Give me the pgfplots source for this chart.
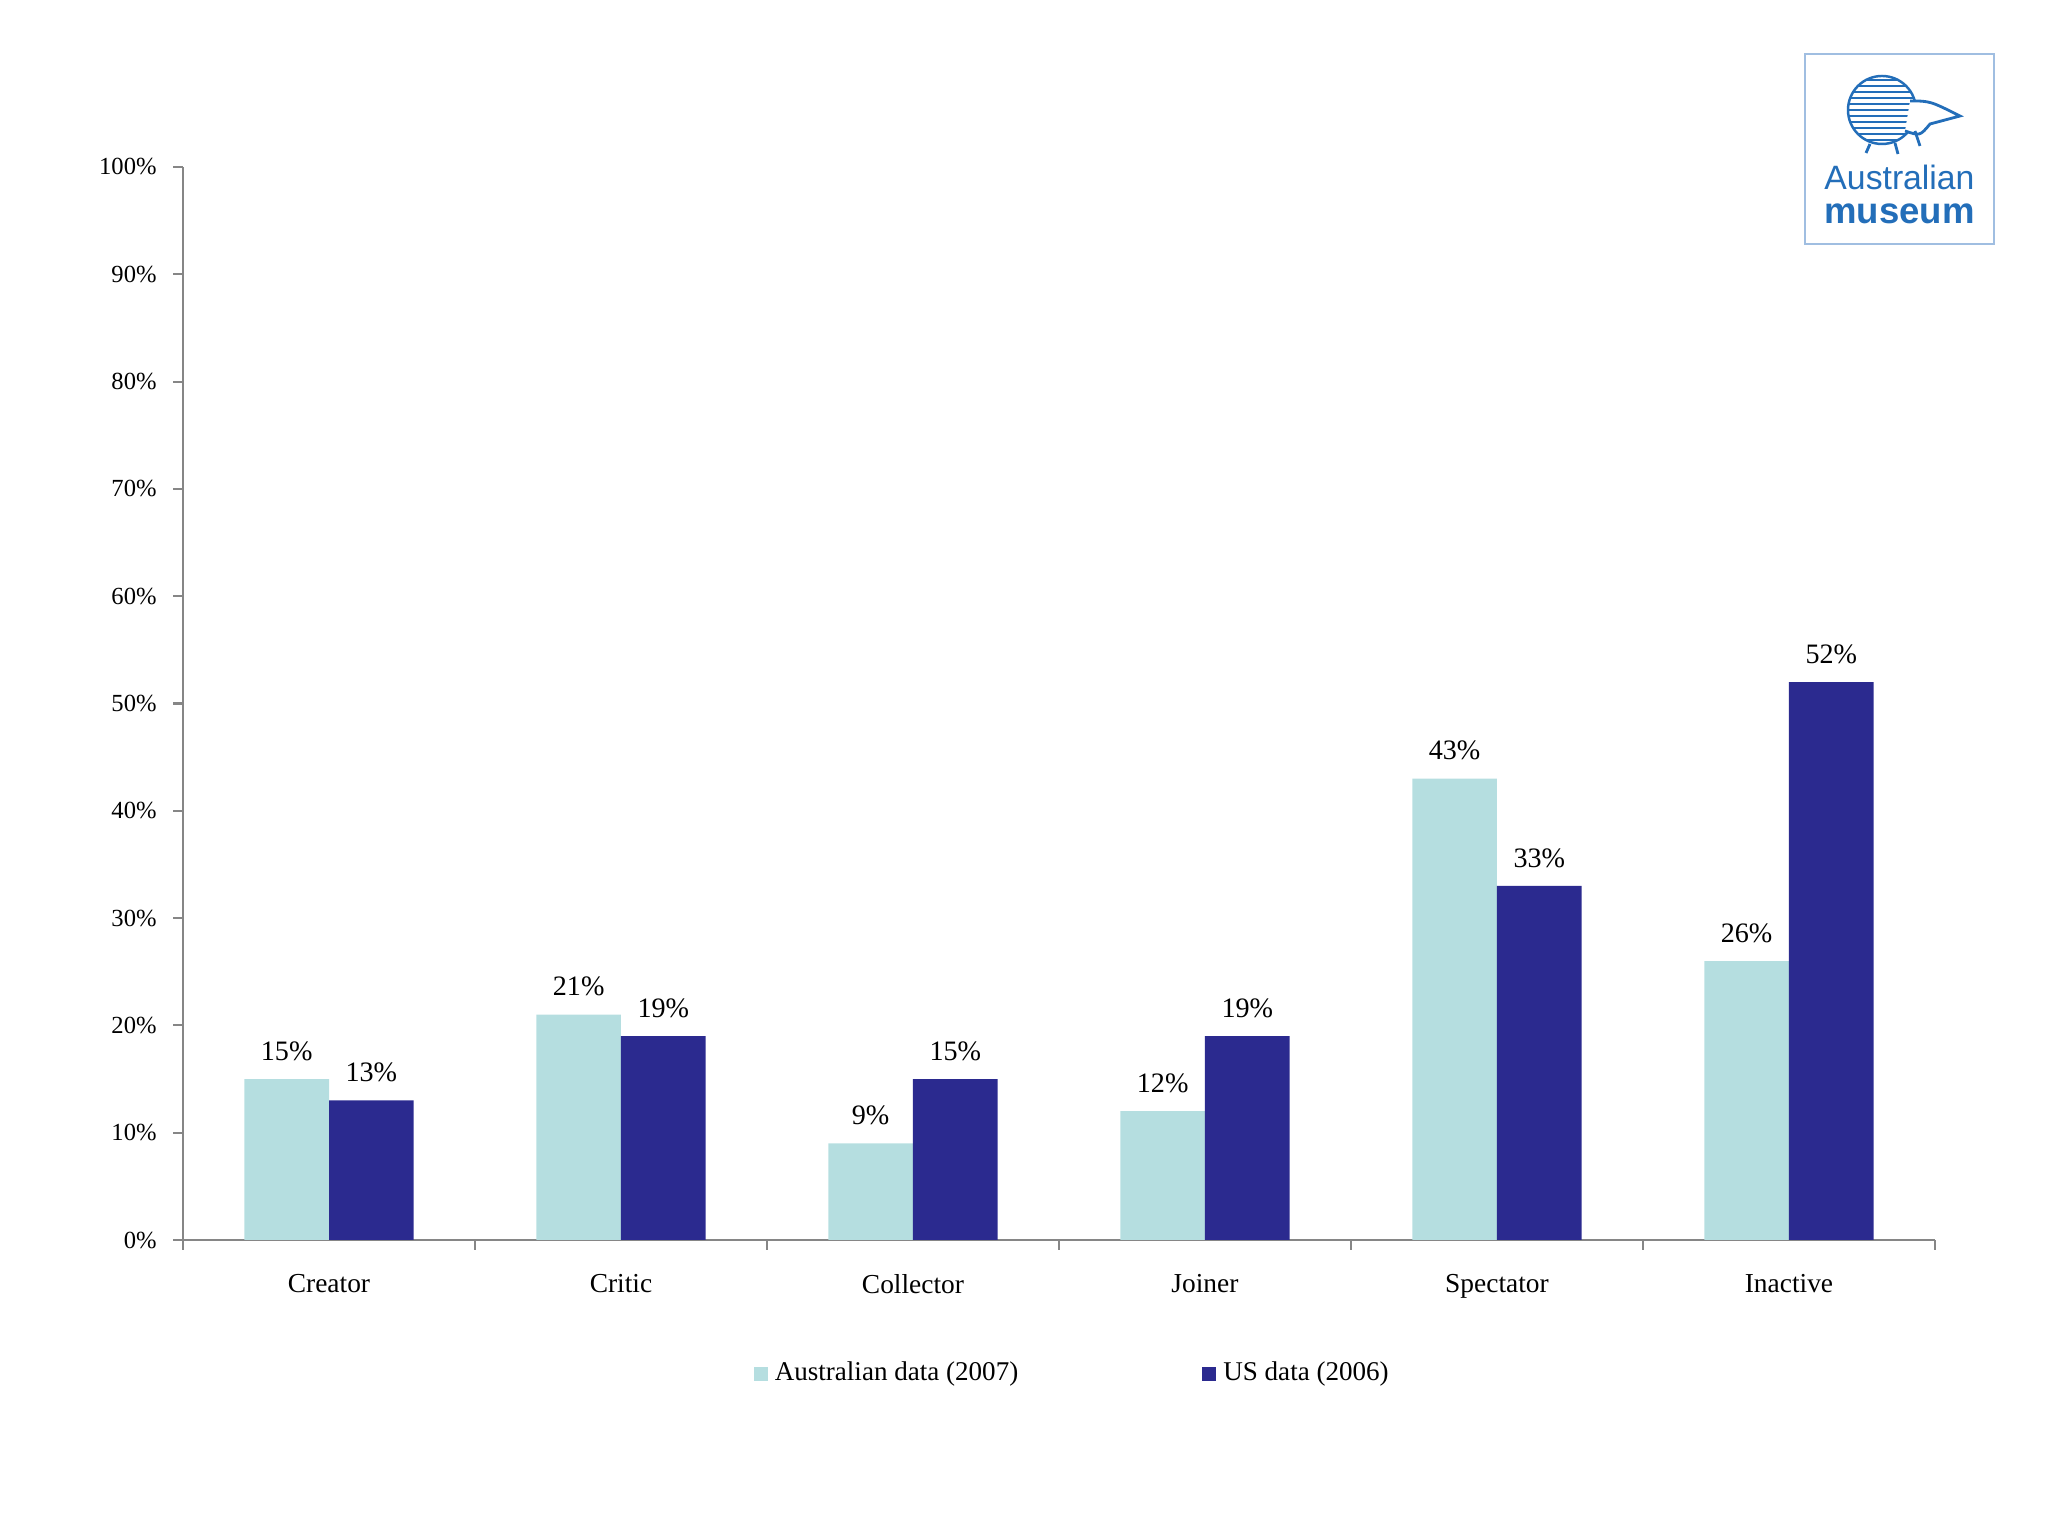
\documentclass[border=0pt]{standalone}
\usepackage{fontspec}
\setmainfont{Liberation Serif}
\newfontfamily\logofont{Liberation Sans}
\usepackage{pgfplots}
\pgfplotsset{compat=1.18}
\definecolor{aus}{RGB}{181,222,224}
\definecolor{usd}{RGB}{43,42,143}
\definecolor{axgray}{RGB}{134,134,134}
\definecolor{logoblue}{RGB}{35,110,185}
\definecolor{logoframe}{RGB}{160,190,225}

\begin{document}
\begin{tikzpicture}
\path[use as bounding box] (0,0) rectangle (20.48,15.36);
\begin{axis}[
  at={(1.83cm,2.96cm)}, anchor=south west,
  scale only axis, width=17.52cm, height=10.73cm,
  xmin=-0.5, xmax=5.5, ymin=0, ymax=100,
  axis x line*=bottom, axis y line*=left,
  axis line style={axgray, line width=0.7pt, -},
  tick align=outside,
  tick style={axgray, line width=0.6pt},
  major tick length=0.1cm,
  ytick={0,10,...,100},
  yticklabel={\pgfmathprintnumber{\tick}\%},
  /pgf/number format/assume math mode=true,
  yticklabel style={font=\fontsize{7}{8}\selectfont, xshift=-0.04cm},
  xtick={-0.5,0.5,...,5.5},
  x tick label as interval,
  xticklabels={Creator,Critic,Collector,Joiner,Spectator,Inactive},
  xticklabel style={font=\fontsize{7.8}{9}\selectfont, yshift=-0.12cm},
  ybar=0pt, bar width=0.29,
  nodes near coords={\pgfmathprintnumber{\pgfplotspointmeta}\%},
  every node near coord/.append style={font=\fontsize{8}{9}\selectfont, text=black, yshift=0.06cm},
  legend columns=2,
  legend style={at={(0.509,-0.125)}, anchor=center, draw=none,
    font=\fontsize{7.7}{9}\selectfont,
    /tikz/every even column/.append style={column sep=1.77cm}},
  legend image code/.code={\fill[#1] (0cm,-0.07cm) rectangle (0.14cm,0.07cm);},
]
\addplot[fill=aus, draw=none] coordinates {(0,15) (1,21) (2,9) (3,12) (4,43) (5,26)};
\addlegendentry{Australian data (2007)}
\addplot[fill=usd, draw=none] coordinates {(0,13) (1,19) (2,15) (3,19) (4,33) (5,52)};
\addlegendentry{US data (2006)}
\end{axis}
% logo
\draw[logoframe, line width=0.6pt, fill=white] (18.05,12.92) rectangle (19.94,14.82);
\begin{scope}
  \clip (18.82,14.26) ellipse (0.34 and 0.34);
  \foreach \y in {13.90,13.96,...,14.62} {
    \draw[logoblue, line width=0.7pt] (18.45,\y) -- (19.2,\y);
  }
\end{scope}
\draw[logoblue, line width=0.7pt] (18.82,14.26) ellipse (0.34 and 0.34);
\draw[logoblue, line width=0.8pt, fill=white] (19.1,14.35) .. controls (19.3,14.35) .. (19.6,14.2) -- (19.3,14.12) .. controls (19.2,14.0) .. (19.05,14.05);
\draw[logoblue, line width=0.8pt] (18.7,13.92) -- (18.66,13.83) (18.95,13.93) -- (18.98,13.82) (19.15,14.05) -- (19.2,13.9);
\node[logoblue, font=\logofont\fontsize{9.6}{10}\selectfont, inner sep=0pt] at (18.995,13.59) {Australian};
\node[logoblue, font=\logofont\bfseries\fontsize{10.4}{11}\selectfont, inner sep=0pt] at (18.995,13.22) {museum};
\end{tikzpicture}
\end{document}
